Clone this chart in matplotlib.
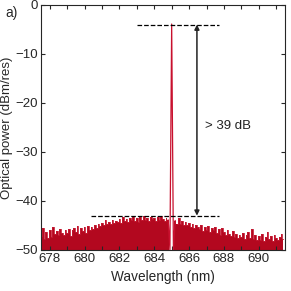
import matplotlib
matplotlib.use("Agg")
import matplotlib.pyplot as plt
import numpy as np

plt.rcParams['font.family'] = ['Liberation Sans', 'DejaVu Sans']

# spectrum sampled every 0.1 nm from 677.5 nm
start_nm = 677.5
step_nm = 0.1
power = [
    -47.2, -45.6, -47.8, -46.4, -47.5,
    -46.0, -47.3, -45.4, -46.8, -46.2,
    -47.0, -45.7, -46.5, -46.9, -45.9,
    -46.6, -45.8, -47.1, -46.0, -45.5,
    -46.3, -45.2, -46.8, -45.6, -46.1,
    -45.4, -46.5, -45.1, -45.9, -45.3,
    -45.8, -44.9, -45.5, -44.7, -45.2,
    -44.4, -45.0, -43.9, -44.6, -44.2,
    -44.8, -43.8, -44.5, -44.0, -44.3,
    -43.6, -44.4, -43.2, -44.1, -43.7,
    -44.3, -43.4, -43.9, -43.1, -44.0,
    -43.5, -44.2, -43.3, -43.8, -43.0,
    -43.9, -43.4, -44.1, -43.2, -43.7,
    -43.5, -44.0, -43.3, -43.8, -43.1,
    -43.6, -44.1, -43.4, -43.9, -50.0,
    -3.9,
    -50.0, -44.0, -44.8, -43.5,
    -44.6, -44.1, -45.0, -44.3, -44.9,
    -44.5, -45.3, -44.7, -45.6, -44.9,
    -45.4, -45.8, -45.0, -46.1, -45.3,
    -45.9, -45.2, -46.3, -45.5, -46.0,
    -45.4, -46.6, -45.8, -46.9, -45.6,
    -46.4, -47.0, -45.9, -46.8, -47.2,
    -46.2, -47.4, -46.7, -47.6, -46.9,
    -47.3, -46.6, -47.8, -47.0, -46.4,
    -47.5, -45.8, -47.7, -46.9, -47.9,
    -47.2, -47.9, -46.8, -48.1, -47.4,
    -46.3, -47.8, -47.1, -48.2, -46.9,
    -47.6, -48.0, -47.3, -46.8, -47.7,
]
peak_level = -4.0
floor_level = -43.0
peak_wl = 685.0

wl = start_nm + step_nm * np.arange(len(power))
power = np.array(power)
noise = np.where(np.abs(wl - peak_wl) < 0.05, -50.0, power)

red = '#b3081f'
fig = plt.figure(figsize=(2.91, 2.91), dpi=100)
ax = fig.add_axes([0.141, 0.141, 0.838, 0.842])

ax.fill_between(wl, -50, noise, color=red, lw=0, step='mid')
ax.plot(wl[:73], noise[:73], color='#c41a33', lw=0.6, drawstyle='steps-mid')
ax.plot(wl[78:], noise[78:], color='#c41a33', lw=0.6, drawstyle='steps-mid')
ax.plot(wl[73:78], power[73:78], color='#c8102e', lw=0.9)

# dashed reference levels
ax.plot([683.0, 687.7], [peak_level, peak_level], 'k--', lw=0.9)
ax.plot([680.35, 687.7], [floor_level, floor_level], 'k--', lw=0.9)
ax.annotate('', xy=(686.45, peak_level), xytext=(686.45, floor_level),
            arrowprops=dict(arrowstyle='<|-|>', color='#222222', lw=1.1,
                            mutation_scale=7, shrinkA=0, shrinkB=0))
ax.text(686.9, -24.7, '> 39 dB', fontsize=9.5, va='center', color='#222222')

ax.set_xlim(677.5, 691.5)
ax.set_ylim(-50, 0)
ax.set_xticks(np.arange(678, 691, 2))
ax.set_xticks(np.arange(678, 692, 1), minor=True)
ax.set_yticks(np.arange(-50, 1, 10))
ax.tick_params(which='both', direction='in', top=True, right=True, length=3,
               labelsize=9.5, colors='#262626', width=0.8, pad=2.5)
for s in ax.spines.values():
    s.set_color('#262626')
    s.set_linewidth(0.8)

ax.set_xlabel('Wavelength (nm)', fontsize=9.8, color='#262626', labelpad=3)
ax.set_ylabel('Optical power (dBm/res)', fontsize=9.5, color='#262626')
ax.yaxis.set_label_coords(-0.115, 0.5)
fig.text(0.02, 0.955, 'a)', fontsize=9.8, color='#262626', va='center')

fig.savefig('out.png', dpi=100)
